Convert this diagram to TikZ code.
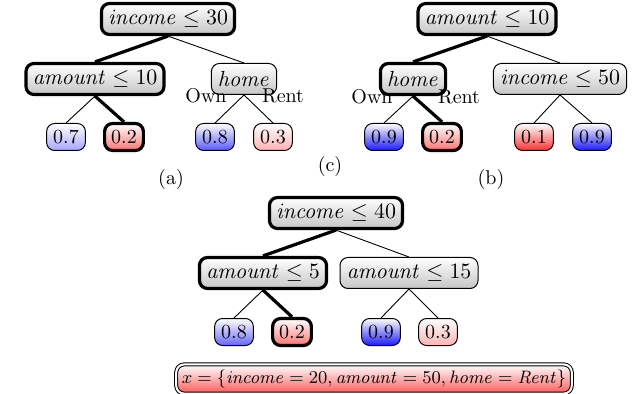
\documentclass[tikz,border=0pt]{standalone}
\usetikzlibrary{shapes.misc}
\begin{document}
\begin{tikzpicture}[x=0.5pt,y=-0.5pt,
  box/.style={rounded corners=4pt,draw,line width=0.5pt,inner sep=3.3pt,
    minimum height=13.5pt},
  split/.style={box,top color=white,bottom color=gray!45,minimum height=15.5pt,
    font=\fontsize{10.6}{12}\selectfont},
  onpath/.style={line width=1.6pt},
  leaf/.style 2 args={box,top color=white,bottom color=#1!#2},
  link/.style={line width=0.45pt},
  hot/.style={line width=1.6pt},
  tag/.style={inner sep=0pt,font=\normalsize}]
\useasboundingbox (0,0) rectangle (640,394);

% ---- tree (a)
\node[split,onpath] (a0) at (168,19) {$\mathit{income}\leq 30$};
\node[split,onpath] (a1) at (95,79) {$\mathit{amount}\leq 10$};
\node[split] (a2) at (244,79) {$\mathit{home}$};
\node[leaf={blue}{35}] (a3) at (66,137) {$0.7$};
\node[leaf={red}{55},onpath] (a4) at (124,137) {$0.2$};
\node[leaf={blue}{65}] (a5) at (215,137) {$0.8$};
\node[leaf={red}{30}] (a6) at (273,137) {$0.3$};
\draw[hot] (a0.south) -- (a1.north);
\draw[link] (a0.south) -- (a2.north);
\draw[link] (a1.south) -- (a3.north);
\draw[hot] (a1.south) -- (a4.north);
\draw[link] (a2.south) -- (a5.north);
\draw[link] (a2.south) -- (a6.north);
\node[tag] (aown) at (206,96) {Own};
\node[tag] (arent) at (283,96) {Rent};
\node[tag] (acap) at (171,180) {(a)};

% ---- tree (b)
\node[split,onpath] (b0) at (487,19) {$\mathit{amount}\leq 10$};
\node[split,onpath] (b1) at (413,79) {$\mathit{home}$};
\node[split] (b2) at (560,79) {$\mathit{income}\leq 50$};
\node[leaf={blue}{90}] (b3) at (384,137) {$0.9$};
\node[leaf={red}{55},onpath] (b4) at (442,137) {$0.2$};
\node[leaf={red}{80}] (b5) at (534,137) {$0.1$};
\node[leaf={blue}{90}] (b6) at (592,137) {$0.9$};
\draw[hot] (b0.south) -- (b1.north);
\draw[link] (b0.south) -- (b2.north);
\draw[link] (b1.south) -- (b3.north);
\draw[hot] (b1.south) -- (b4.north);
\draw[link] (b2.south) -- (b5.north);
\draw[link] (b2.south) -- (b6.north);
\node[tag] (bown) at (372,97) {Own};
\node[tag] (brent) at (459,97) {Rent};
\node[tag] (bcap) at (491,180) {(b)};

\node[tag] (ccap) at (330,167) {(c)};

% ---- tree (c)
\node[split,onpath] (c0) at (336,213) {$\mathit{income}\leq 40$};
\node[split,onpath] (c1) at (263,273) {$\mathit{amount}\leq 5$};
\node[split] (c2) at (409,273) {$\mathit{amount}\leq 15$};
\node[leaf={blue}{60}] (c3) at (234,332) {$0.8$};
\node[leaf={red}{55},onpath] (c4) at (292,332) {$0.2$};
\node[leaf={blue}{90}] (c5) at (381,332) {$0.9$};
\node[leaf={red}{30}] (c6) at (438,332) {$0.3$};
\draw[hot] (c0.south) -- (c1.north);
\draw[link] (c0.south) -- (c2.north);
\draw[link] (c1.south) -- (c3.north);
\draw[hot] (c1.south) -- (c4.north);
\draw[link] (c2.south) -- (c5.north);
\draw[link] (c2.south) -- (c6.north);

% ---- query instance
\node[box,top color=white,bottom color=red!65,double,double distance=1pt,
  minimum height=14pt,inner sep=2.8pt,font=\fontsize{9.5}{11}\selectfont]
  (x) at (374,379)
  {$x=\{\mathit{income}=20,\mathit{amount}=50,\mathit{home}=\mathit{Rent}\}$};
\end{tikzpicture}
\end{document}
